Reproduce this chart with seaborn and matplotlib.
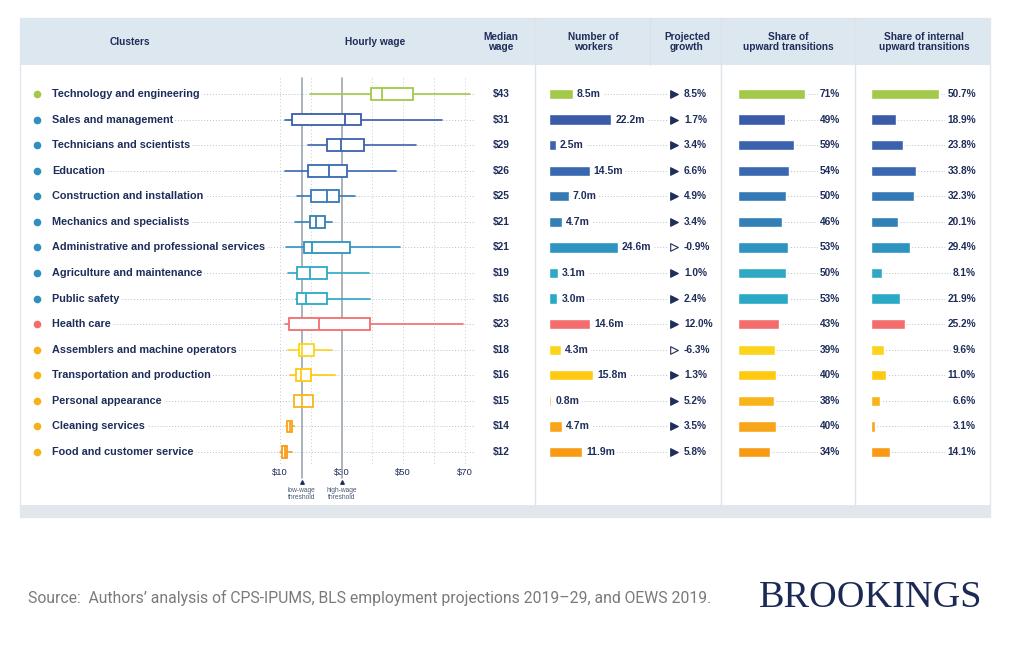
import matplotlib
matplotlib.use("Agg")
import matplotlib.pyplot as plt
import matplotlib.transforms as mtransforms
from matplotlib.patches import Rectangle
import seaborn as sns
import pandas as pd

sns.set_theme(style="white")
plt.rcParams["font.family"] = ["Liberation Sans", "DejaVu Sans"]

# ---- data ----
clusters = ["Technology and engineering", "Sales and management", "Technicians and scientists",
            "Education", "Construction and installation", "Mechanics and specialists",
            "Administrative and professional services", "Agriculture and maintenance",
            "Public safety", "Health care", "Assemblers and machine operators",
            "Transportation and production", "Personal appearance", "Cleaning services",
            "Food and customer service"]
bar_colors = ["#a3c94a", "#3a5ca8", "#3a62ad", "#3868b0", "#3479b5", "#3280b5", "#2e93bf",
              "#2fa9c3", "#2aa9c5", "#f36d6d", "#fcd41c", "#fdc911", "#f9b41a", "#f8a51a", "#f89a14"]
dot_colors = ["#a3c94a"] + ["#2f8fbf"] * 8 + ["#f36d6d"] + ["#f7b21a"] * 5
median_wage = [43, 31, 29, 26, 25, 21, 21, 19, 16, 23, 18, 16, 15, 14, 12]
wage_lo = [19.7, 11.6, 19.2, 11.6, 15.4, 14.9, 11.9, 12.7, 15.2, 11.6, 12.7, 13.2, 14.5, 12.0, 10.0]
wage_q1 = [39.5, 13.8, 25.4, 19.2, 20.0, 19.7, 17.8, 15.4, 15.4, 13.0, 16.3, 15.2, 14.5, 12.4, 10.8]
wage_med = [43.0, 31.1, 29.7, 25.8, 25.2, 21.6, 20.5, 19.7, 18.3, 22.8, 17.2, 16.7, 17.0, 13.2, 11.5]
wage_q3 = [53.1, 36.2, 37.3, 31.6, 29.0, 24.6, 32.7, 25.2, 25.4, 39.2, 21.0, 20.0, 20.8, 13.9, 12.2]
wage_hi = [71.7, 62.5, 54.0, 47.7, 34.4, 26.9, 49.0, 38.9, 39.2, 69.5, 26.8, 27.9, 20.8, 14.6, 13.8]
workers = [8.5, 22.2, 2.5, 14.5, 7.0, 4.7, 24.6, 3.1, 3.0, 14.6, 4.3, 15.8, 0.8, 4.7, 11.9]
growth = [8.5, 1.7, 3.4, 6.6, 4.9, 3.4, -0.9, 1.0, 2.4, 12.0, -6.3, 1.3, 5.2, 3.5, 5.8]
share_up = [71, 49, 59, 54, 50, 46, 53, 50, 53, 43, 39, 40, 38, 40, 34]
share_internal = [50.7, 18.9, 23.8, 33.8, 32.3, 20.1, 29.4, 8.1, 21.9, 25.2, 9.6, 11.0, 6.6, 3.1, 14.1]
wage_ticks = [10, 30, 50, 70]
wage_grid = [10, 20, 40, 50, 60, 70]
thresholds = [17, 30]
threshold_labels = ["low-wage\nthreshold", "high-wage\nthreshold"]
headers = [("Clusters", 130), ("Hourly wage", 375), ("Median\nwage", 501),
           ("Number of\nworkers", 593), ("Projected\ngrowth", 687),
           ("Share of\nupward transitions", 788), ("Share of internal\nupward transitions", 924)]

df = pd.DataFrame({"cluster": clusters, "workers": workers, "share_up": share_up,
                   "share_internal": share_internal})
palette = dict(zip(clusters, bar_colors))

NAVY = "#1f2d5a"
LEAD = "#b9c0c9"
W, H = 1024, 657
Y0, DY = 94, 25.57
n = len(clusters)

fig = plt.figure(figsize=(W / 100, H / 100), dpi=100)
bg = fig.add_axes([0, 0, 1, 1])
bg.set_xlim(0, W)
bg.set_ylim(H, 0)
bg.axis("off")


def ry(i):
    return Y0 + i * DY


def col_axes(x0, x1, origin, scale):
    top, bot = Y0 - DY / 2, Y0 + (n - 0.5) * DY
    ax = fig.add_axes([x0 / W, 1 - bot / H, (x1 - x0) / W, (bot - top) / H])
    ax.patch.set_alpha(0)
    ax.set_xlim((x0 - origin) / scale, (x1 - origin) / scale)
    return ax


# card, header, bands
bg.add_patch(Rectangle((20, 18), 970, 499, facecolor="white", edgecolor="#e3e7eb", lw=1))
bg.add_patch(Rectangle((20, 18), 970, 47, facecolor="#dde7ef", edgecolor="none"))
bg.add_patch(Rectangle((20, 505), 970, 12, facecolor="#e2e7ed", edgecolor="none"))
for xs in [535, 721, 855]:
    bg.plot([xs, xs], [18, 505], color="#dfe3e8", lw=1)
bg.plot([650, 650], [18, 65], color="#d6dfe8", lw=0.6)
for txt, xc in headers:
    bg.text(xc, 42, txt, ha="center", va="center", fontsize=7.3, fontweight="bold",
            color=NAVY, linespacing=0.95)

# row labels, leaders, values
for i in range(n):
    y = ry(i)
    bg.plot([52, 473], [y, y], color=LEAD, lw=0.7, ls=(0, (1, 2)))
    bg.plot([37], [y], "o", ms=5.5, color=dot_colors[i], mec="none")
    bg.text(52, y, clusters[i], ha="left", va="center", fontsize=7.8, fontweight="bold",
            color=NAVY, bbox=dict(facecolor="white", edgecolor="none", pad=1.5))
    bg.text(510, y, f"${median_wage[i]}", ha="right", va="center", fontsize=7.3,
            fontweight="bold", color=NAVY)
    bg.plot([549, 667], [y, y], color=LEAD, lw=0.7, ls=(0, (1, 2)))
    bg.plot([738, 838], [y, y], color=LEAD, lw=0.7, ls=(0, (1, 2)))
    bg.plot([871, 972], [y, y], color=LEAD, lw=0.7, ls=(0, (1, 2)))
    g = growth[i]
    bg.scatter([674], [y], marker=">", s=30, facecolor=NAVY if g >= 0 else "white",
               edgecolor=NAVY, lw=0.8, zorder=3)
    bg.text(684, y, f"{g:.1f}%", ha="left", va="center", fontsize=7.3, fontweight="bold",
            color=NAVY)
    bg.text(840, y, f"{share_up[i]}%", ha="right", va="center", fontsize=7.3,
            fontweight="bold", color=NAVY, bbox=dict(facecolor="white", edgecolor="none", pad=1.5))
    bg.text(976, y, f"{share_internal[i]:.1f}%", ha="right", va="center", fontsize=7.3,
            fontweight="bold", color=NAVY, bbox=dict(facecolor="white", edgecolor="none", pad=1.5))

# ---- hourly wage boxes ----
wax = col_axes(265, 480, 280 - 10 * 3.08, 3.08)
vtr = mtransforms.blended_transform_factory(wax.transData, bg.transData)
for gx in wage_grid:
    wax.plot([gx, gx], [78, 465], color="#c6ccd3", lw=0.7, ls=(0, (1, 2.5)),
             transform=vtr, clip_on=False, zorder=0.5)
for tx, tl in zip(thresholds, threshold_labels):
    wax.plot([tx, tx], [78, 478], color="#9ea6b0", lw=1.2, transform=vtr, clip_on=False, zorder=0.6)
    wax.scatter([tx], [482], marker="^", s=6, color=NAVY, transform=vtr, clip_on=False)
    wax.text(tx, 494, tl, ha="center", va="center", fontsize=4.8, color="#4a5a7a",
             transform=vtr, linespacing=0.9)
stats = [dict(whislo=a, q1=b, med=c, q3=d, whishi=e, fliers=[])
         for a, b, c, d, e in zip(wage_lo, wage_q1, wage_med, wage_q3, wage_hi)]
try:
    bp = wax.bxp(stats, positions=range(n), widths=0.46, orientation="horizontal",
                 patch_artist=True, showcaps=False, showfliers=False)
except TypeError:
    bp = wax.bxp(stats, positions=range(n), widths=0.46, vert=False,
                 patch_artist=True, showcaps=False, showfliers=False)
for i in range(n):
    c = bar_colors[i]
    bp["boxes"][i].set(facecolor="white", edgecolor=c, linewidth=1.3, zorder=2)
    bp["medians"][i].set(color=c, linewidth=1.3, zorder=2.1)
    for w in bp["whiskers"][2 * i:2 * i + 2]:
        w.set(color=c, linewidth=1.2, zorder=1.9)
wax.set_ylim(n - 0.5, -0.5)
wax.set_xticks(wage_ticks)
wax.set_xticklabels([f"${t}" for t in wage_ticks])
wax.set_yticks([])
wax.tick_params(axis="x", length=0, pad=2, labelsize=6.8, labelcolor=NAVY)
for s in wax.spines.values():
    s.set_visible(False)

# ---- bar columns ----
def bar_column(col, x0, x1, origin, scale):
    ax = col_axes(x0, x1, origin, scale)
    xl = ax.get_xlim()
    sns.barplot(data=df, x=col, y="cluster", hue="cluster", palette=palette, orient="h",
                width=0.4, saturation=1, legend=False, ax=ax)
    ax.set_xlim(xl)
    ax.set_ylim(n - 0.5, -0.5)
    ax.axis("off")
    return ax

kax = bar_column("workers", 536, 720, 549, 2.8)
off = mtransforms.offset_copy(kax.transData, fig=fig, x=4, y=0, units="dots")
for i, v in enumerate(workers):
    kax.text(v, i, f"{v:.1f}m", transform=off, ha="left", va="center", fontsize=7.5,
             fontweight="bold", color=NAVY, bbox=dict(facecolor="white", edgecolor="none", pad=1.5))

bar_column("share_up", 722, 855, 738, 0.95)
bar_column("share_internal", 856, 990, 871, 1.335)

# ---- footer ----
bg.text(28, 598, "Source:  Authors\u2019 analysis of CPS-IPUMS, BLS employment projections 2019\u201329, and OEWS 2019.",
        ha="left", va="center", fontsize=11.3, color="#7a7a7a", family=["Roboto", "DejaVu Sans"])
bg.text(982, 598, "BROOKINGS", ha="right", va="center", fontsize=27.5, color="#1b2a55",
        family=["Liberation Serif", "DejaVu Serif"])

fig.savefig("out.png", dpi=100)
